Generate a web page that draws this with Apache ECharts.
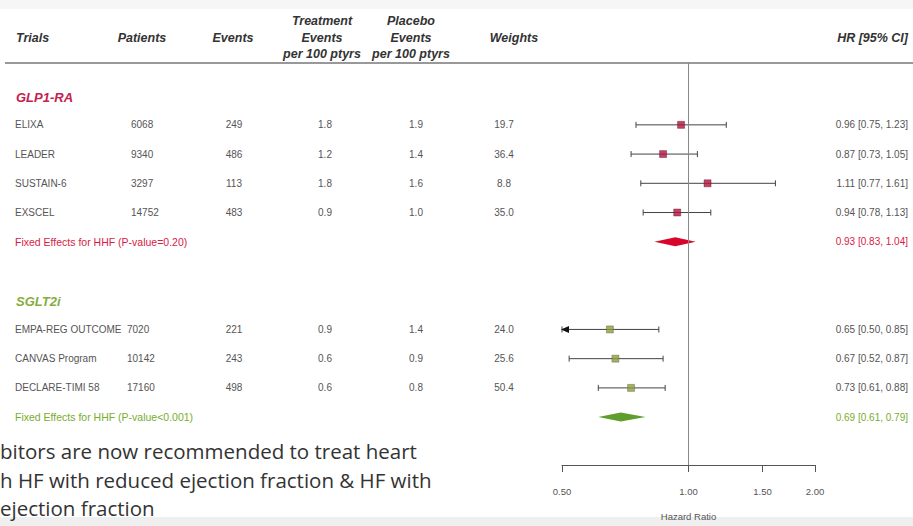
<!DOCTYPE html>
<html><head><meta charset="utf-8">
<script src="https://cdn.jsdelivr.net/npm/echarts@6/dist/echarts.min.js"></script>
<style>html,body{margin:0;padding:0;background:#fff}#c{width:913px;height:526px}</style>
</head><body><div id="c"></div>
<script>
// ---------- data ----------
const trials   = ['ELIXA','LEADER','SUSTAIN-6','EXSCEL','EMPA-REG OUTCOME','CANVAS Program','DECLARE-TIMI 58'];
const trialGroup = [0,0,0,0,1,1,1];
const trialRows  = [1,2,3,4,8,9,10];
const patients = ['6068','9340','3297','14752','7020','10142','17160'];
const events   = ['249','486','113','483','221','243','498'];
const trtRate  = ['1.8','1.2','1.8','0.9','0.9','0.6','0.6'];
const pboRate  = ['1.9','1.4','1.6','1.0','1.4','0.9','0.8'];
const weights  = ['19.7','36.4','8.8','35.0','24.0','25.6','50.4'];
const hr = [0.96,0.87,1.11,0.94,0.65,0.67,0.73];
const lo = [0.75,0.73,0.77,0.78,0.50,0.52,0.61];
const hi = [1.23,1.05,1.61,1.13,0.85,0.87,0.88];

const groupNames = ['GLP1-RA','SGLT2i'];
const groupRows  = [0,7];
const pooledRows = [5,11];
const pooledLabels = ['Fixed Effects for HHF (P-value=0.20)','Fixed Effects for HHF (P-value<0.001)'];
const pooledHR = [0.93,0.69];
const pooledLo = [0.83,0.61];
const pooledHi = [1.04,0.79];

const headers = ['Trials','Patients','Events','Treatment\nEvents\nper 100 ptyrs','Placebo\nEvents\nper 100 ptyrs','Weights','HR [95% CI]'];
const xTicks = [0.5,1,1.5,2];
const axisName = 'Hazard Ratio';
const overlayLines = ['bitors are now recommended to treat heart','h HF with reduced ejection fraction & HF with','ejection fraction'];

// ---------- style ----------
const groupColor = ['#c4204e','#86ad42'];
const pooledTextColor = ['#d81b45','#78ad2e'];
const pointColor = ['#b0143e','#8d9c3e'];
const diamondColor = ['#d8062c','#5f9e2c'];
const FF = '"Liberation Sans", Arial, sans-serif';
const bodyFont = '10px ' + FF;
const pooledFont = '10.5px ' + FF;
const bodyColor = '#555';
const fmt = v => v.toFixed(2);
const L = Math.log;

const chart = echarts.init(document.getElementById('c'), null, {renderer:'svg'});

const tableData = [];
trials.forEach((t,i)=>tableData.push({value:[0,trialRows[i]], kind:'trial', i}));
groupNames.forEach((g,i)=>tableData.push({value:[0,groupRows[i]], kind:'group', i}));
pooledLabels.forEach((p,i)=>tableData.push({value:[0,pooledRows[i]], kind:'pooled', i}));

function txt(text,x,y,align,font,fill){
  return {type:'text', style:{text, x, y, align, verticalAlign:'middle', font, fill}};
}

function renderTable(params, api){
  const d = tableData[params.dataIndex];
  const y = api.coord([0, api.value(1)])[1];
  const ch = [];
  if (d.kind==='trial'){
    const i=d.i, g=trialGroup[i];
    ch.push(txt(trials[i],15,y,'left',bodyFont,bodyColor));
    ch.push(txt(patients[i], g===0?131:127, y,'left',bodyFont,bodyColor));
    ch.push(txt(events[i],234,y,'center',bodyFont,bodyColor));
    ch.push(txt(trtRate[i],325,y,'center',bodyFont,bodyColor));
    ch.push(txt(pboRate[i],416,y,'center',bodyFont,bodyColor));
    ch.push(txt(weights[i],504,y,'center',bodyFont,bodyColor));
    ch.push(txt(fmt(hr[i])+' ['+fmt(lo[i])+', '+fmt(hi[i])+']',908,y,'right',bodyFont,bodyColor));
  } else if (d.kind==='group'){
    ch.push(txt(groupNames[d.i],16,y+1.5,'left','italic bold 13px '+FF,groupColor[d.i]));
  } else {
    const i=d.i;
    ch.push(txt(pooledLabels[i],15,y,'left',pooledFont,pooledTextColor[i]));
    ch.push(txt(fmt(pooledHR[i])+' ['+fmt(pooledLo[i])+', '+fmt(pooledHi[i])+']',908,y,'right',bodyFont,pooledTextColor[i]));
  }
  return {type:'group', children:ch};
}

const ciData = trials.map((t,i)=>[L(lo[i]),L(hi[i]),trialRows[i]]);
function renderCI(params, api){
  const r = api.value(2);
  const p1 = api.coord([api.value(0), r]);
  const p2 = api.coord([api.value(1), r]);
  const st = {stroke:'#444', lineWidth:1};
  const ch = [
    {type:'line', shape:{x1:p1[0],y1:p1[1],x2:p2[0],y2:p2[1]}, style:st},
    {type:'line', shape:{x1:p1[0],y1:p1[1]-3,x2:p1[0],y2:p1[1]+3}, style:st},
    {type:'line', shape:{x1:p2[0],y1:p2[1]-3,x2:p2[0],y2:p2[1]+3}, style:st}
  ];
  if (api.value(0) <= L(xTicks[0]) + 1e-6){
    ch.push({type:'polygon', shape:{points:[[p1[0]-1,p1[1]],[p1[0]+7,p1[1]-3.5],[p1[0]+7,p1[1]+3.5]]}, style:{fill:'#111'}});
  }
  return {type:'group', children:ch};
}

const diaData = pooledHR.map((h,i)=>[L(pooledLo[i]),L(pooledHi[i]),pooledRows[i],L(h),i]);
function renderDiamond(params, api){
  const r = api.value(2);
  const a = api.coord([api.value(0), r]);
  const b = api.coord([api.value(1), r]);
  const c = api.coord([api.value(3), r]);
  return {type:'polygon', shape:{points:[[a[0],a[1]],[c[0],c[1]-4.5],[b[0],b[1]],[c[0],c[1]+4.5]]},
          style:{fill:diamondColor[api.value(4)]}};
}

const rowY0 = 125, rowStep = 29.3, gridTop = 63, gridBottom = 466;
const yMin = 1 - (rowY0-gridTop)/rowStep;
const yMax = 1 + (gridBottom-rowY0)/rowStep;
const tickVals = xTicks.map(L);

const headerFont = 'italic bold 12.5px ' + FF;
const hx = [[16,'left'],[142,'center'],[233,'center'],[322,'center'],[411,'center'],[514,'center'],[908,'right']];

const graphics = [
  {type:'rect', shape:{x:0,y:0,width:913,height:9}, style:{fill:'#f6f6f6'}, z:-1},
  {type:'rect', shape:{x:0,y:517,width:913,height:9}, style:{fill:'#efefef'}, z:-1},
  {type:'line', shape:{x1:5,y1:63,x2:913,y2:63}, style:{stroke:'#999', lineWidth:2}}
];
headers.forEach((h,i)=>{
  const lines = h.split('\n');
  lines.forEach((ln,k)=>{
    const y = lines.length===1 ? 37.5 : 21 + k*16.5;
    graphics.push({type:'text', style:{text:ln, x:hx[i][0], y, align:hx[i][1], verticalAlign:'middle', font:headerFont, fill:'#333'}});
  });
});
overlayLines.forEach((t,k)=>{
  graphics.push({type:'text', z:100, style:{text:t, x:0, y:[451,480,508][k], align:'left', verticalAlign:'middle',
    font:'20.5px "Open Sans", "Noto Sans", sans-serif', fill:'#333'}});
});

chart.setOption({
  animation:false,
  backgroundColor:'#fff',
  grid:{left:562, top:gridTop, width:253, height:gridBottom-gridTop},
  xAxis:{type:'value', min:L(xTicks[0]), max:L(xTicks[3]),
    axisLine:{show:true, onZero:false, lineStyle:{color:'#555', width:1}},
    axisTick:{show:true, customValues:tickVals, length:7, lineStyle:{color:'#555'}},
    axisLabel:{customValues:tickVals, formatter:v=>fmt(Math.exp(v)), fontSize:9.5, color:'#555', margin:21, fontFamily:'Liberation Sans'},
    splitLine:{show:false},
    name:axisName, nameLocation:'middle', nameGap:46, nameTextStyle:{fontSize:9.5, color:'#555', fontFamily:'Liberation Sans'}
  },
  yAxis:{type:'value', inverse:true, min:yMin, max:yMax, show:false},
  graphic:graphics,
  series:[
    {type:'custom', name:'table', renderItem:renderTable, data:tableData.map(d=>d.value), clip:false, silent:true},
    {type:'custom', name:'ci', renderItem:renderCI, data:ciData, clip:false, silent:true,
      markLine:{silent:true, symbol:['none','none'], label:{show:false}, lineStyle:{color:'#888', type:'solid', width:1}, data:[{xAxis:0}]}},
    {type:'scatter', name:'GLP1-RA', symbol:'rect', symbolSize:7, z:5,
      itemStyle:{color:pointColor[0], borderColor:'#6a0a24', borderWidth:0.5},
      data:trials.map((t,i)=>[L(hr[i]),trialRows[i]]).filter((d,i)=>trialGroup[i]===0)},
    {type:'scatter', name:'SGLT2i', symbol:'rect', symbolSize:7, z:5,
      itemStyle:{color:pointColor[1], borderColor:'#55602a', borderWidth:0.5},
      data:trials.map((t,i)=>[L(hr[i]),trialRows[i]]).filter((d,i)=>trialGroup[i]===1)},
    {type:'custom', name:'pooled', renderItem:renderDiamond, data:diaData, clip:false, silent:true}
  ]
});
</script></body></html>
